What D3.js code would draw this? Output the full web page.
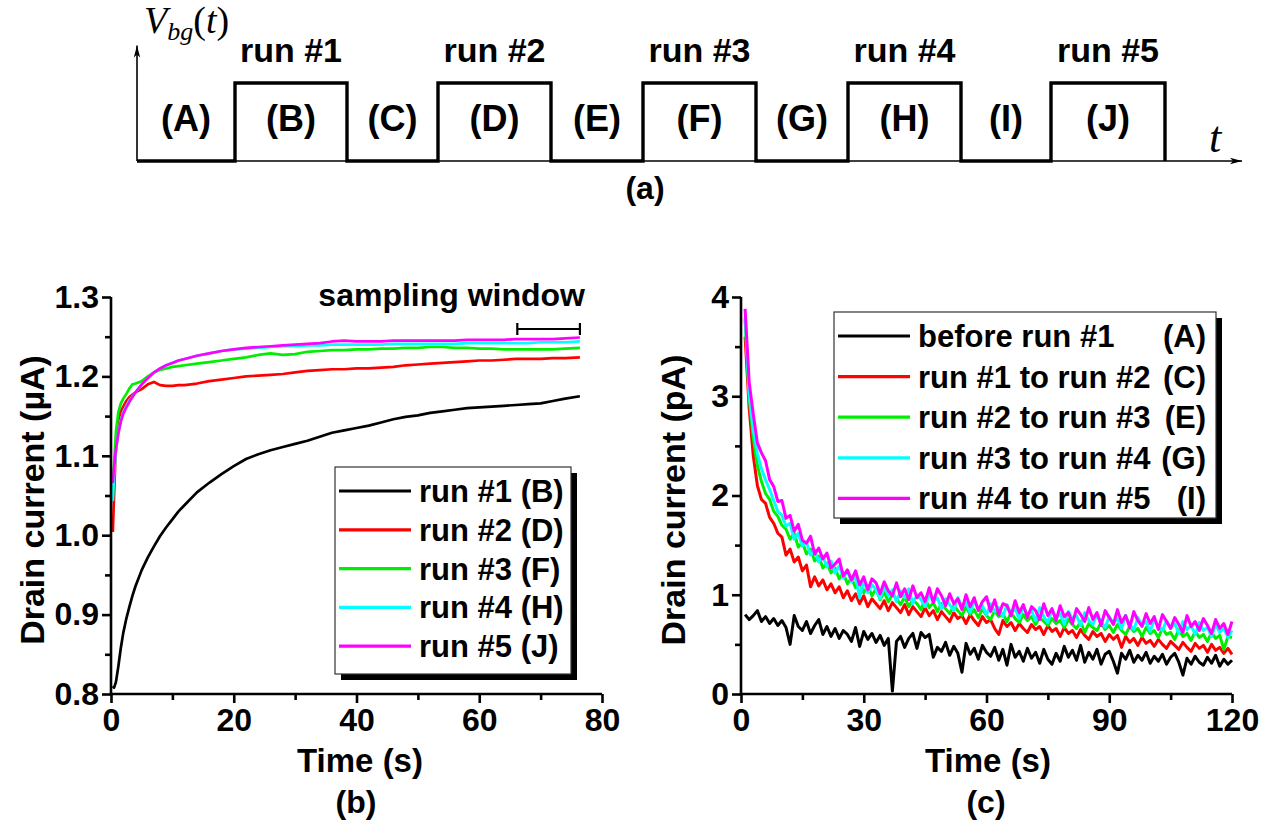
<!DOCTYPE html>
<html>
<head>
<meta charset="utf-8">
<script src="https://cdn.jsdelivr.net/npm/d3@7"></script>
<style>
  body { margin: 0; background: #fff; }
  svg { display: block; }
  text { font-family: "Liberation Sans", Arial, sans-serif; font-weight: bold; fill: #000; }
  .serif { font-family: "Liberation Serif", "Times New Roman", serif; font-weight: normal; }
</style>
</head>
<body>
<svg id="fig" width="1273" height="828"></svg>
<script>
// ---------- (a) back-gate voltage schedule ----------
const phaseLabels = ["(A)", "(B)", "(C)", "(D)", "(E)", "(F)", "(G)", "(H)", "(I)", "(J)"];
const phaseLevels = [0, 1, 0, 1, 0, 1, 0, 1, 0, 1];
const phaseEdges  = [0, 0.98, 2.10, 3.01, 4.14, 5.06, 6.19, 7.11, 8.24, 9.14, 10.28];
const runLabels   = ["run #1", "run #2", "run #3", "run #4", "run #5"];
const scheduleEnd = 11.05;

// ---------- (b) drain current during each run (µA) ----------
const timeRun = [0.3,0.5,0.8,1.2,1.6,2,2.5,3,3.5,4,5,6,7,8,9,10,11,12,14,16,18,20,22,24,26,28,30,32,34,36,38,40,42,44,46,48,50,52,54,56,58,60,62,64,66,68,70,72,74,76.4];
const run1 = [0.810,0.808,0.815,0.835,0.858,0.877,0.895,0.910,0.924,0.936,0.956,0.972,0.986,0.999,1.010,1.020,1.030,1.038,
  1.054,1.066,1.077,1.087,1.096,1.102,1.107,1.111,1.115,1.119,1.124,1.129,1.132,1.135,1.138,1.142,1.146,1.149,1.151,1.154,
  1.156,1.158,1.160,1.161,1.162,1.163,1.164,1.165,1.166,1.169,1.172,1.175];
const run2 = [1.004,1.050,1.115,1.145,1.156,1.162,1.169,1.174,1.177,1.180,1.184,1.190,1.193,1.189,1.188,1.188,1.189,1.189,
  1.191,1.194,1.196,1.198,1.200,1.201,1.202,1.203,1.205,1.207,1.208,1.209,1.209,1.210,1.210,1.211,1.212,1.214,1.215,1.216,
  1.217,1.218,1.219,1.220,1.220,1.221,1.222,1.222,1.222,1.223,1.223,1.224];
const run3 = [1.050,1.090,1.130,1.155,1.166,1.172,1.178,1.185,1.190,1.191,1.194,1.200,1.205,1.208,1.210,1.212,1.213,1.214,
  1.216,1.218,1.220,1.222,1.224,1.227,1.229,1.227,1.228,1.231,1.232,1.233,1.233,1.234,1.234,1.235,1.235,1.236,1.236,1.237,
  1.237,1.236,1.236,1.235,1.235,1.234,1.234,1.234,1.234,1.234,1.235,1.236];
const run4 = [1.043,1.075,1.105,1.130,1.145,1.155,1.163,1.170,1.175,1.180,1.190,1.198,1.205,1.210,1.214,1.217,1.220,1.222,
  1.226,1.229,1.232,1.234,1.235,1.236,1.237,1.238,1.238,1.239,1.239,1.240,1.240,1.240,1.240,1.240,1.241,1.241,1.241,1.241,
  1.241,1.241,1.242,1.242,1.242,1.242,1.242,1.242,1.243,1.243,1.243,1.244];
const run5 = [1.066,1.085,1.108,1.128,1.143,1.153,1.161,1.168,1.174,1.180,1.190,1.198,1.205,1.210,1.214,1.217,1.220,1.222,
  1.226,1.229,1.232,1.234,1.236,1.237,1.238,1.239,1.240,1.241,1.242,1.244,1.245,1.244,1.244,1.244,1.245,1.245,1.245,1.245,
  1.245,1.245,1.246,1.246,1.246,1.246,1.247,1.247,1.247,1.247,1.248,1.249];
const runNames  = ["run #1 (B)", "run #2 (D)", "run #3 (F)", "run #4 (H)", "run #5 (J)"];
const samplingWindow = [66.2, 76.4];

// ---------- (c) drain current between runs (pA) ----------
const timeRest = [1,2,3,4,5,6,7,8,9,10,11,12,13,14,15,16,17,18,19,20,21,22,23,24,25,26,27,28,29,30,
  31,32,33,34,35,36,37,38,39,40,41,42,43,44,45,46,47,48,49,50,51,52,53,54,55,56,57,58,59,60,
  61,62,63,64,65,66,67,68,69,70,71,72,73,74,75,76,77,78,79,80,81,82,83,84,85,86,87,88,89,90,
  91,92,93,94,95,96,97,98,99,100,101,102,103,104,105,106,107,108,109,110,111,112,113,114,115,116,117,118,119,120];
const restA = [0.80,0.75,0.79,0.84,0.73,0.78,0.71,0.76,0.69,0.74, 0.67,0.50,0.79,0.68,0.64,0.73,0.61,0.69,0.75,0.60,
  0.68,0.58,0.66,0.56,0.64,0.60,0.53,0.67,0.48,0.63, 0.55,0.61,0.52,0.59,0.49,0.56,0.03,0.53,0.58,0.47,
  0.56,0.61,0.46,0.62,0.57,0.60,0.37,0.47,0.43,0.52, 0.39,0.48,0.41,0.22,0.51,0.40,0.46,0.35,0.49,0.42,
  0.38,0.47,0.34,0.45,0.29,0.50,0.37,0.43,0.33,0.46, 0.36,0.42,0.31,0.45,0.35,0.30,0.41,0.33,0.48,0.37,
  0.44,0.34,0.49,0.32,0.42,0.35,0.45,0.30,0.40,0.43, 0.33,0.21,0.41,0.35,0.44,0.32,0.39,0.34,0.42,0.31,
  0.38,0.33,0.40,0.30,0.37,0.41,0.32,0.19,0.36,0.30, 0.38,0.32,0.29,0.37,0.31,0.39,0.28,0.35,0.30,0.34];
const restC = [3.60,2.88,2.40,2.10,1.96,1.92,1.78,1.72,1.62,1.58, 1.40,1.46,1.33,1.38,1.24,1.30,1.08,1.18,1.09,1.15,
  1.05,1.11,1.02,1.08,0.97,1.04,0.94,1.01,0.91,0.99, 0.88,0.96,0.91,0.86,0.94,0.84,0.92,0.87,0.82,0.90,
  0.80,0.88,0.83,0.78,0.87,0.79,0.84,0.75,0.83,0.78, 0.73,0.82,0.76,0.79,0.71,0.80,0.74,0.69,0.78,0.72,
  0.75,0.66,0.60,0.74,0.68,0.72,0.64,0.71,0.66,0.62, 0.70,0.65,0.68,0.60,0.69,0.63,0.66,0.58,0.67,0.61,
  0.64,0.57,0.65,0.59,0.55,0.63,0.58,0.61,0.53,0.60, 0.55,0.59,0.47,0.58,0.52,0.56,0.49,0.57,0.51,0.54,
  0.48,0.55,0.50,0.46,0.53,0.49,0.45,0.52,0.47,0.43, 0.51,0.46,0.49,0.42,0.50,0.44,0.47,0.41,0.46,0.40];
const restE = [3.78,2.98,2.58,2.30,2.14,2.02,1.96,1.84,1.79,1.70, 1.66,1.56,1.62,1.48,1.53,1.41,1.46,1.34,1.39,1.27,
  1.32,1.22,1.27,1.16,1.22,1.11,1.17,1.07,1.13,1.02, 1.09,0.99,1.06,0.95,1.03,0.93,1.00,0.96,0.90,0.98,
  0.88,0.95,0.91,0.85,0.96,0.87,0.92,0.83,0.91,0.86, 0.81,0.89,0.84,0.79,0.88,0.80,0.85,0.77,0.86,0.79,
  0.75,0.84,0.78,0.81,0.73,0.82,0.76,0.72,0.80,0.74, 0.78,0.70,0.77,0.73,0.69,0.76,0.71,0.74,0.67,0.75,
  0.70,0.66,0.73,0.62,0.71,0.67,0.64,0.72,0.65,0.69, 0.62,0.70,0.64,0.60,0.68,0.63,0.66,0.58,0.67,0.61,
  0.64,0.57,0.66,0.60,0.62,0.55,0.65,0.58,0.61,0.54, 0.63,0.57,0.60,0.53,0.62,0.56,0.59,0.45,0.58,0.57];
const restG = [3.80,3.02,2.66,2.42,2.27,2.16,2.06,1.95,1.84,1.80, 1.69,1.72,1.56,1.62,1.49,1.53,1.40,1.45,1.33,1.39,
  1.28,1.34,1.22,1.29,1.17,1.24,1.13,1.19,0.97,1.15, 1.02,1.10,1.05,0.96,1.08,0.99,1.05,0.93,1.04,0.97,
  1.06,0.91,1.00,0.95,0.88,1.01,0.93,0.97,0.86,0.96, 0.90,0.84,0.97,0.88,0.92,0.82,0.94,0.85,0.89,0.80,
  0.91,0.83,0.87,0.78,0.90,0.81,0.86,0.76,0.88,0.80, 0.84,0.74,0.87,0.78,0.72,0.85,0.77,0.81,0.70,0.83,
  0.76,0.79,0.69,0.82,0.74,0.70,0.80,0.73,0.67,0.78, 0.71,0.76,0.66,0.79,0.70,0.65,0.77,0.69,0.73,0.63,
  0.75,0.68,0.64,0.74,0.66,0.71,0.61,0.73,0.65,0.69, 0.60,0.72,0.64,0.67,0.58,0.70,0.62,0.66,0.57,0.64];
const restI = [3.88,3.14,2.82,2.53,2.43,2.35,2.16,2.09,1.94,1.95, 1.77,1.80,1.64,1.71,1.55,1.52,1.59,1.41,1.47,1.36,
  1.42,1.27,1.31,1.36,1.19,1.25,1.15,1.24,1.10,1.18, 1.05,1.16,1.12,1.01,1.13,1.04,0.99,1.12,0.98,1.06,
  0.95,1.09,0.97,1.02,0.93,1.07,0.92,1.06,0.99,0.89, 1.01,0.91,0.96,0.85,1.00,0.88,0.97,0.84,0.93,0.98,
  0.83,0.95,0.80,0.91,0.89,0.79,0.94,0.82,0.90,0.77, 0.88,0.84,0.75,0.91,0.79,0.86,0.74,0.89,0.78,0.82,
  0.71,0.86,0.80,0.73,0.87,0.75,0.82,0.69,0.84,0.77, 0.70,0.85,0.72,0.79,0.67,0.83,0.74,0.68,0.81,0.71,
  0.78,0.65,0.80,0.73,0.66,0.77,0.70,0.62,0.79,0.68, 0.73,0.64,0.76,0.69,0.61,0.75,0.66,0.71,0.60,0.73];
const restNames = ["before run #1", "run #1 to run #2", "run #2 to run #3", "run #3 to run #4", "run #4 to run #5"];
const restTags  = ["(A)", "(C)", "(E)", "(G)", "(I)"];

// ---------- shared styling ----------
const seriesColors = ["#000000", "#ff0000", "#00ee00", "#00ffff", "#ff00ff"];
const tickValsB = { x: [0, 20, 40, 60, 80], xMinor: [10, 30, 50, 70],
                    y: [0.8, 0.9, 1.0, 1.1, 1.2, 1.3], yMinor: [0.85, 0.95, 1.05, 1.15, 1.25] };
const tickValsC = { x: [0, 30, 60, 90, 120], xMinor: [15, 45, 75, 105],
                    y: [0, 1, 2, 3, 4], yMinor: [0.5, 1.5, 2.5, 3.5] };

const svg = d3.select("#fig");

// ===== (a) schedule diagram =====
const xa = d3.scaleLinear().domain([0, scheduleEnd]).range([137, 1242]);
const ya = d3.scaleLinear().domain([0, 1]).range([161, 83]);

const defs = svg.append("defs");
defs.append("marker").attr("id", "arrow").attr("viewBox", "0 0 12 8")
  .attr("refX", 12).attr("refY", 4).attr("markerWidth", 12).attr("markerHeight", 8)
  .attr("markerUnits", "userSpaceOnUse").attr("orient", "auto")
  .append("path").attr("d", "M0,0.8 L12,4 L0,7.2 L3,4 Z").attr("fill", "#000");

const ga = svg.append("g");
ga.append("line").attr("x1", xa(0)).attr("x2", xa(scheduleEnd)).attr("y1", ya(0)).attr("y2", ya(0))
  .attr("stroke", "#000").attr("stroke-width", 1.6).attr("marker-end", "url(#arrow)");
ga.append("line").attr("x1", xa(0)).attr("x2", xa(0)).attr("y1", ya(0)).attr("y2", ya(1.48))
  .attr("stroke", "#000").attr("stroke-width", 1.6).attr("marker-end", "url(#arrow)");

const wave = [];
phaseLevels.forEach((lv, i) => { wave.push([phaseEdges[i], lv], [phaseEdges[i + 1], lv]); });
wave.push([phaseEdges[phaseEdges.length - 1], 0]);
ga.append("path").attr("d", d3.line().x(d => xa(d[0])).y(d => ya(d[1]))(wave))
  .attr("fill", "none").attr("stroke", "#000").attr("stroke-width", 3.4).attr("stroke-linejoin", "miter");

ga.selectAll("text.phase").data(phaseLabels).join("text").attr("class", "phase")
  .attr("x", (d, i) => xa((phaseEdges[i] + phaseEdges[i + 1]) / 2)).attr("y", 131)
  .attr("text-anchor", "middle").attr("font-size", 36).text(d => d);

const highPhases = phaseLevels.map((lv, i) => i).filter(i => phaseLevels[i] === 1);
ga.selectAll("text.run").data(runLabels).join("text").attr("class", "run")
  .attr("x", (d, k) => xa((phaseEdges[highPhases[k]] + phaseEdges[highPhases[k] + 1]) / 2)).attr("y", 62)
  .attr("text-anchor", "middle").attr("font-size", 34).text(d => d);

const vlab = ga.append("text").attr("class", "serif").attr("x", 144).attr("y", 33).attr("font-size", 38);
vlab.append("tspan").attr("font-style", "italic").text("V");
vlab.append("tspan").attr("font-style", "italic").attr("font-size", 26).attr("dy", 7).text("bg");
vlab.append("tspan").attr("dy", -7).text("(");
vlab.append("tspan").attr("font-style", "italic").text("t");
vlab.append("tspan").text(")");
ga.append("text").attr("class", "serif").attr("font-style", "italic").attr("font-size", 44)
  .attr("x", 1209).attr("y", 152).text("t");
ga.append("text").attr("x", 645).attr("y", 199).attr("text-anchor", "middle").attr("font-size", 32).text("(a)");

// ===== axis helper =====
function axes(g, x, y, tv, fmtY) {
  const y0 = y.range()[0];
  const x0 = x.range()[0];
  const gx = g.append("g").attr("transform", `translate(0,${y0})`)
    .call(d3.axisBottom(x).tickValues(tv.x).tickSize(9).tickSizeOuter(0).tickPadding(5).tickFormat(d3.format("d")));
  g.append("g").attr("transform", `translate(0,${y0})`)
    .call(d3.axisBottom(x).tickValues(tv.xMinor).tickSize(6).tickSizeOuter(0).tickFormat(""))
    .select(".domain").remove();
  const gy = g.append("g").attr("transform", `translate(${x0},0)`)
    .call(d3.axisLeft(y).tickValues(tv.y).tickSize(9).tickSizeOuter(0).tickPadding(3).tickFormat(fmtY));
  g.append("g").attr("transform", `translate(${x0},0)`)
    .call(d3.axisLeft(y).tickValues(tv.yMinor).tickSize(6).tickSizeOuter(0).tickFormat(""))
    .select(".domain").remove();
  g.selectAll(".domain").attr("stroke", "#000").attr("stroke-width", 2.6);
  g.selectAll(".tick line").attr("stroke", "#000").attr("stroke-width", 2.6);
  g.selectAll(".tick text").attr("font-size", 32).attr("font-family", '"Liberation Sans", Arial, sans-serif')
    .attr("font-weight", "bold").attr("fill", "#000");
  // run both axis lines through the corner
  gy.select(".domain").attr("d", `M0,${y.range()[1]}V${y0 + 1.3}`);
  gx.select(".domain").attr("d", `M${x0 - 1.3},0H${x.range()[1]}`);
}

// ===== (b) =====
const xb = d3.scaleLinear().domain([0, 80]).range([111, 602]);
const yb = d3.scaleLinear().domain([0.8, 1.3]).range([694, 297]);
const gb = svg.append("g");
const lineB = d3.line().x(d => xb(d[0])).y(d => yb(d[1]));
[run1, run2, run3, run4, run5].forEach((vals, i) => {
  gb.append("path").attr("d", lineB(timeRun.map((t, k) => [t, vals[k]])))
    .attr("fill", "none").attr("stroke", seriesColors[i]).attr("stroke-width", 2.7).attr("stroke-linejoin", "round");
});
axes(gb, xb, yb, tickValsB, d3.format(".1f"));

gb.append("text").attr("x", 360).attr("y", 772).attr("text-anchor", "middle").attr("font-size", 33).text("Time (s)");
gb.append("text").attr("x", 356).attr("y", 813).attr("text-anchor", "middle").attr("font-size", 32).text("(b)");
gb.append("text").attr("transform", "translate(44,500) rotate(-90)").attr("text-anchor", "middle")
  .attr("font-size", 34).text("Drain current (\u00b5A)");
gb.append("text").attr("x", 585).attr("y", 306).attr("text-anchor", "end").attr("font-size", 32).text("sampling window");
const swY = 329;
gb.append("path").attr("d", `M${xb(samplingWindow[0])},${swY - 6}V${swY + 6}M${xb(samplingWindow[0])},${swY}H${xb(samplingWindow[1])}M${xb(samplingWindow[1])},${swY - 6}V${swY + 6}`)
  .attr("fill", "none").attr("stroke", "#000").attr("stroke-width", 2.2);

function legend(g, left, top, w, h, rowGap, names, tags, tagRight) {
  g.append("rect").attr("x", left + 6).attr("y", top + 6).attr("width", w).attr("height", h).attr("fill", "#000");
  g.append("rect").attr("x", left).attr("y", top).attr("width", w).attr("height", h)
    .attr("fill", "#fff").attr("stroke", "#333").attr("stroke-width", 1.2);
  names.forEach((nm, i) => {
    const cy = top + 24 + i * rowGap;
    g.append("line").attr("x1", left + 4).attr("x2", left + 76).attr("y1", cy).attr("y2", cy)
      .attr("stroke", seriesColors[i]).attr("stroke-width", 3.2);
    g.append("text").attr("x", left + 84).attr("y", cy + 11).attr("font-size", 31).text(nm);
    if (tags) g.append("text").attr("x", tagRight).attr("y", cy + 11).attr("text-anchor", "end")
      .attr("font-size", 31).text(tags[i]);
  });
}
legend(gb, 335, 467, 236, 207, 38.8, runNames, null, 0);

// ===== (c) =====
const xc = d3.scaleLinear().domain([0, 120]).range([741, 1232]);
const yc = d3.scaleLinear().domain([0, 4]).range([694, 297]);
const gc = svg.append("g");
const lineC = d3.line().x(d => xc(d[0])).y(d => yc(d[1]));
[restA, restC, restE, restG, restI].forEach((vals, i) => {
  gc.append("path").attr("d", lineC(timeRest.map((t, k) => [t, vals[k]])))
    .attr("fill", "none").attr("stroke", seriesColors[i]).attr("stroke-width", 3).attr("stroke-linejoin", "round");
});
axes(gc, xc, yc, tickValsC, d3.format("d"));
gc.append("text").attr("x", 988).attr("y", 772).attr("text-anchor", "middle").attr("font-size", 33).text("Time (s)");
gc.append("text").attr("x", 986).attr("y", 813).attr("text-anchor", "middle").attr("font-size", 32).text("(c)");
gc.append("text").attr("transform", "translate(685,500) rotate(-90)").attr("text-anchor", "middle")
  .attr("font-size", 34).text("Drain current (pA)");
legend(gc, 834, 312, 382, 206, 40.6, restNames, restTags, 1206);
</script>
</body>
</html>
